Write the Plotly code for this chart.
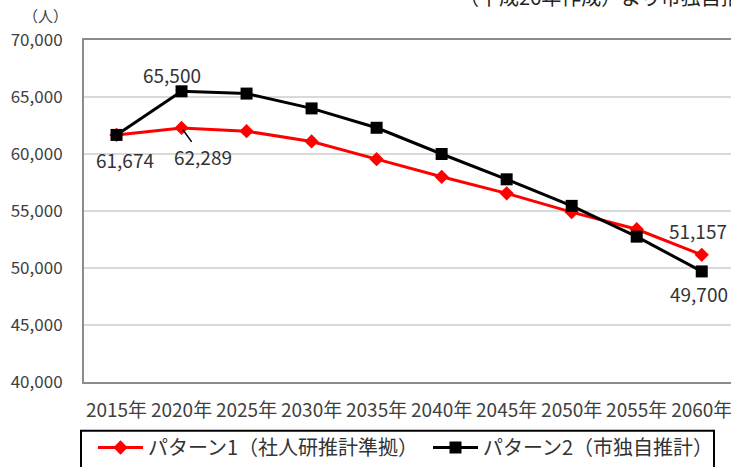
import plotly.graph_objects as go

years = ["2015年", "2020年", "2025年", "2030年", "2035年", "2040年", "2045年", "2050年", "2055年", "2060年"]
pattern1_name = "パターン1（社人研推計準拠）"
pattern2_name = "パターン2（市独自推計）"
pattern1 = [61674, 62289, 62000, 61100, 59550, 58000, 56550, 54900, 53400, 51157]
pattern2 = [61674, 65500, 65300, 64000, 62300, 60000, 57780, 55450, 52750, 49700]
y_ticks = [40000, 45000, 50000, 55000, 60000, 65000, 70000]
y_tick_text = ["40,000", "45,000", "50,000", "55,000", "60,000", "65,000", "70,000"]

FONT = "Noto Sans CJK JP"
TXT = "#404040"
W, H = 731, 467
ML, MT, MB = 84, 40, 83
PW, PH = W - ML, H - MT - MB


def px(xp):
    return (xp - ML) / PW


def py(yp):
    return (H - MB - yp) / PH


fig = go.Figure()
fig.add_trace(go.Scatter(
    x=years, y=pattern1, name=pattern1_name, mode="lines+markers",
    line=dict(color="#ff0000", width=3),
    marker=dict(symbol="diamond", size=11, color="#ff0000"),
    legend="legend",
))
fig.add_trace(go.Scatter(
    x=years, y=pattern2, name=pattern2_name, mode="lines+markers",
    line=dict(color="#000000", width=3),
    marker=dict(symbol="square", size=12, color="#000000"),
    legend="legend2",
))

lab_font = dict(family=FONT, size=19, color="#333333")
anns = [
    dict(x=years[0], y=pattern1[0], text=f"{pattern1[0]:,}", showarrow=False, xshift=8, yshift=-25),
    dict(x=years[1], y=pattern2[1], text=f"{pattern2[1]:,}", showarrow=False, xshift=-10, yshift=17),
    dict(x=years[1], y=pattern1[1], text=f"{pattern1[1]:,}", showarrow=True, arrowhead=0,
         arrowwidth=1.5, arrowcolor="#000000", ax=21, ay=29, standoff=2),
    dict(x=years[9], y=pattern1[9], text=f"{pattern1[9]:,}", showarrow=False, xshift=-4, yshift=24),
    dict(x=years[9], y=pattern2[9], text=f"{pattern2[9]:,}", showarrow=False, xshift=-3, yshift=-22),
]
for a in anns:
    a.update(xref="x", yref="y", font=lab_font)
    fig.add_annotation(**a)

fig.add_annotation(text="（人）", xref="paper", yref="paper", x=px(45), y=py(15),
                   xanchor="center", yanchor="middle", showarrow=False,
                   font=dict(family=FONT, size=15, color=TXT))
fig.add_annotation(text="（平成26年作成）より市独自推計", xref="paper", yref="paper",
                   x=px(457), y=py(-4), xanchor="left", yanchor="middle",
                   showarrow=False, font=dict(family=FONT, size=20, color="#222222"))

# legend frame
fig.add_shape(type="rect", xref="paper", yref="paper", x0=px(81), x1=px(714), y0=py(433), y1=py(490),
              line=dict(color="#000000", width=2), fillcolor="rgba(0,0,0,0)", layer="above")

leg_common = dict(orientation="h", xanchor="left", yanchor="middle", y=py(450),
                  bgcolor="rgba(0,0,0,0)", borderwidth=0, itemwidth=45,
                  font=dict(family=FONT, size=20, color="#333333"))

fig.update_layout(
    width=W, height=H,
    margin=dict(l=ML, r=0, t=MT, b=MB, pad=0),
    paper_bgcolor="white", plot_bgcolor="white",
    font=dict(family=FONT, color=TXT),
    showlegend=True,
    legend=dict(x=px(93), **leg_common),
    legend2=dict(x=px(428), **leg_common),
    xaxis=dict(type="category", range=[-0.5, 9.45], showgrid=False, showline=True,
               linecolor="#8c8c8c", linewidth=2, mirror=True, ticks="", automargin=False,
               tickfont=dict(family=FONT, size=19, color=TXT), ticklabelstandoff=10),
    yaxis=dict(range=[40000, 70000], tickvals=y_ticks, ticktext=y_tick_text,
               showgrid=True, gridcolor="#d9d9d9", gridwidth=1.5, showline=True,
               linecolor="#8c8c8c", linewidth=2, mirror=True, ticks="", zeroline=False,
               automargin=False,
               tickfont=dict(family=FONT, size=17, color=TXT), ticklabelstandoff=16),
)

fig.write_html("out.html", config={"displayModeBar": False},
               post_script="document.body.style.margin='0';document.body.style.overflow='hidden';")
